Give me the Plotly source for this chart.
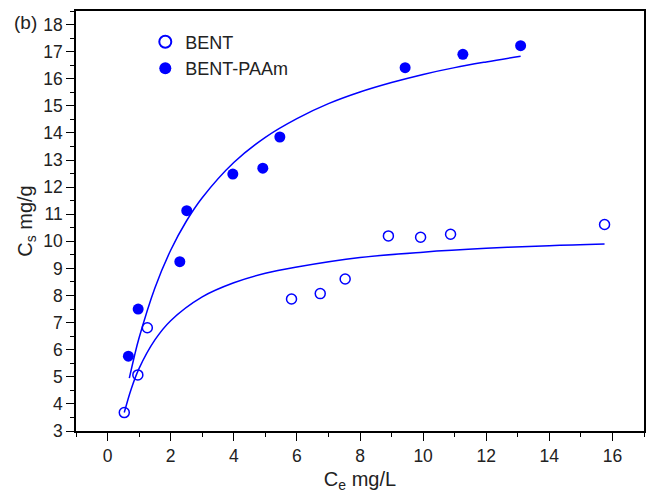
import plotly.graph_objects as go

bent_x = [0.53, 0.96, 1.26, 5.83, 6.74, 7.53, 8.90, 9.92, 10.87, 15.75]
bent_y = [3.68, 5.07, 6.81, 7.87, 8.07, 8.61, 10.20, 10.15, 10.26, 10.62]

paam_x = [0.66, 0.97, 2.29, 2.51, 3.97, 4.92, 5.46, 9.43, 11.26, 13.09]
paam_y = [5.76, 7.50, 9.25, 11.13, 12.48, 12.70, 13.85, 16.41, 16.90, 17.22]

# Fitted curves
bent_fit_x = [0.53, 0.75, 1.0, 1.5, 2, 3, 4, 5, 6, 8, 10, 12, 14, 15.75]
bent_fit_y = [3.68, 4.55, 5.31, 6.36, 7.07, 7.95, 8.47, 8.82, 9.05, 9.40, 9.60, 9.74, 9.84, 9.90]

paam_fit_x = [0.69, 0.85, 1.0, 1.5, 2, 2.5, 3, 4, 5, 6, 7, 8, 9, 10, 11, 12, 13.09]
paam_fit_y = [4.95, 5.76, 6.44, 8.28, 9.67, 10.75, 11.61, 12.91, 13.84, 14.53,
              15.08, 15.51, 15.86, 16.16, 16.41, 16.62, 16.83]

FONT = "Liberation Sans, Arial, sans-serif"
BLUE = "#0000ff"

fig = go.Figure()
fig.add_trace(go.Scatter(x=bent_fit_x, y=bent_fit_y, mode="lines", line=dict(color=BLUE, width=1.5, shape="spline"),
                         showlegend=False, hoverinfo="skip"))
fig.add_trace(go.Scatter(x=paam_fit_x, y=paam_fit_y, mode="lines", line=dict(color=BLUE, width=1.5, shape="spline"),
                         showlegend=False, hoverinfo="skip"))
fig.add_trace(go.Scatter(x=bent_x, y=bent_y, mode="markers", name="BENT",
                         marker=dict(symbol="circle-open", size=10, color=BLUE, line=dict(width=1.5, color=BLUE))))
fig.add_trace(go.Scatter(x=paam_x, y=paam_y, mode="markers", name="BENT-PAAm",
                         marker=dict(symbol="circle", size=11, color=BLUE)))

axis_common = dict(showline=True, linecolor="black", linewidth=1.5, mirror=True,
                   showgrid=False, zeroline=False, ticks="outside", ticklen=8, tickwidth=1.2,
                   tickcolor="black", tickfont=dict(family=FONT, size=17.5, color="#222"))

fig.update_xaxes(range=[-1, 17], tick0=0, dtick=2,
                 minor=dict(ticks="outside", ticklen=4, dtick=1, tick0=0, tickcolor="black", tickwidth=1.2),
                 title=dict(text="C<sub>e</sub> mg/L", font=dict(family=FONT, size=20, color="#222"), standoff=7),
                 **axis_common)
fig.update_yaxes(range=[3, 18.5], tick0=0, dtick=1,
                 minor=dict(ticks="outside", ticklen=4, dtick=0.5, tick0=0, tickcolor="black", tickwidth=1.2),
                 title=dict(text="C<sub>s</sub> mg/g", font=dict(family=FONT, size=20, color="#222"), standoff=5),
                 **axis_common)

fig.add_annotation(text="(b)", xref="paper", yref="paper", x=-0.066, y=0.972, xanchor="right", yanchor="middle",
                   showarrow=False, font=dict(family=FONT, size=19, color="#222"))

fig.update_layout(
    width=654, height=495,
    margin=dict(l=76, r=8, t=11, b=61),
    plot_bgcolor="white", paper_bgcolor="white",
    legend=dict(x=0.122, y=0.97, xanchor="left", yanchor="top", bgcolor="rgba(0,0,0,0)",
                font=dict(family=FONT, size=18, color="#222"), tracegroupgap=0, itemsizing="constant"),
    font=dict(family=FONT),
)

fig.write_html("out.html")
